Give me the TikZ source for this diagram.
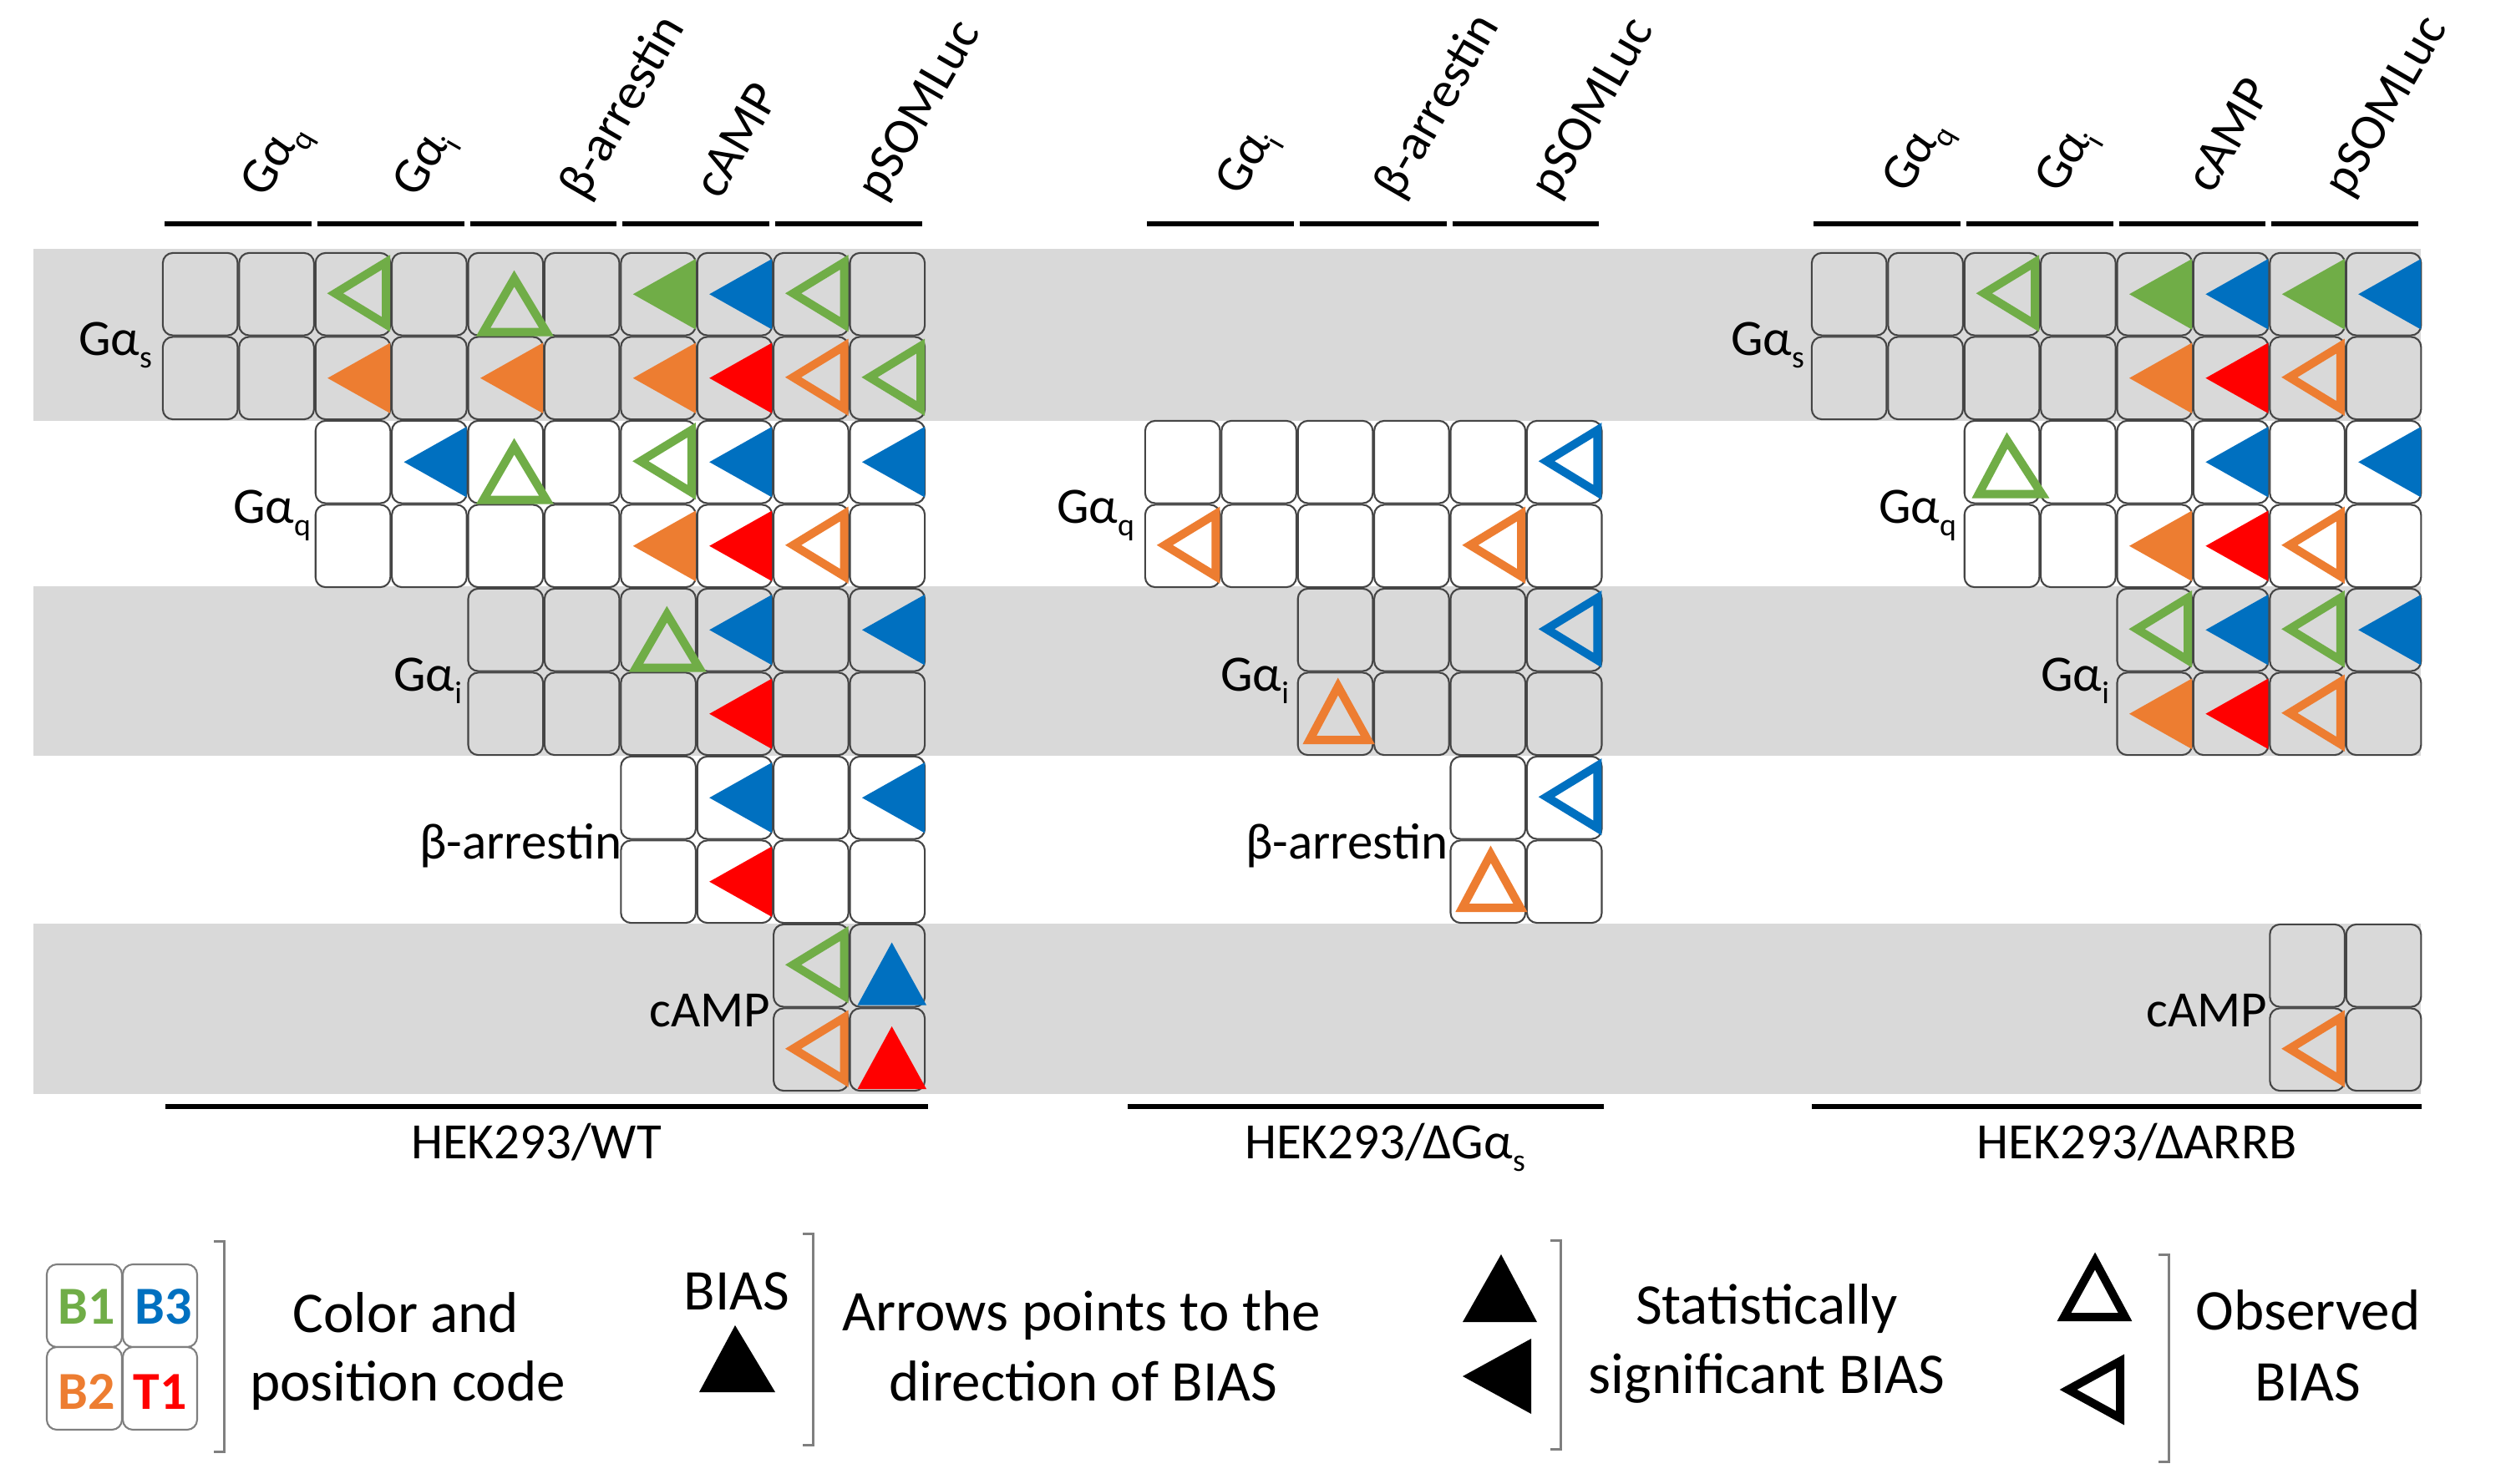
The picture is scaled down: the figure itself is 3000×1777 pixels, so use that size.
\documentclass[tikz,border=0pt]{standalone}
\usepackage{fontspec}
\setmainfont{Carlito}
\usepackage{graphicx}
\definecolor{cgreen}{HTML}{70AD47}
\definecolor{corange}{HTML}{ED7D31}
\definecolor{cblue}{HTML}{0070C0}
\definecolor{cred}{HTML}{FF0000}
\definecolor{bandgray}{HTML}{D9D9D9}
\definecolor{cellline}{HTML}{454545}
\definecolor{brk}{HTML}{7F7F7F}
\newcommand{\sbs}[1]{\raisebox{-0.25em}{\scalebox{0.62}{#1}}}
\newcommand{\Pa}{194}
\newcommand{\Pb}{1370}
\newcommand{\Pc}{2168}
\tikzset{
  bandfill/.style={fill=bandgray},
  cellbox/.style={draw=cellline,line width=1.05pt,rounded corners=6pt},
  hline/.style={line width=3pt,draw=black},
  brace/.style={draw=brk,line width=1.5pt},
  lbl/.style={font=\fontsize{30.5pt}{36pt}\selectfont},
  legtxt/.style={font=\fontsize{34.5pt}{41pt}\selectfont},
  legcode/.style={font=\fontsize{32pt}{38pt}\selectfont\bfseries},
  outl/.style={line width=5pt,line join=miter,miter limit=10},
}
\newcommand{\cells}[5]{%
  \foreach \cc in {#3,...,#4}{%
    \foreach \rr in {0,1}{%
      \path[cellbox,fill=#5] ({#1+91.4*\cc+0.9},{302+100.5*(2*#2+\rr)+0.9}) rectangle ({#1+91.4*(\cc+1)-0.9},{302+100.5*(2*#2+\rr+1)-0.9});
    }}}
\newcommand{\tri}[5]{%
  \pgfmathsetmacro\cL{#1+91.4*#2}%
  \pgfmathsetmacro\cR{\cL+91.4}%
  \pgfmathsetmacro\cT{302+100.5*#3}%
  \pgfmathsetmacro\cB{\cT+100.5}%
  \pgfmathsetmacro\cM{\cT+50.25}%
  \csname tri#4\endcsname{#5}}
\newcommand{\triLf}[1]{\fill[#1] (\cR-1,\cT+8) -- (\cR-1,\cB-8) -- (\cR-76,\cM) -- cycle;}
\newcommand{\triLo}[1]{\draw[#1,outl] (\cR-6,\cT+12) -- (\cR-6,\cB-14) -- (\cR-67,\cM-1) -- cycle;}
\newcommand{\triUf}[1]{\fill[#1] (\cL+10,\cB-3) -- (\cR+1,\cB-3) -- (\cL+51,\cB-78) -- cycle;}
\newcommand{\triUo}[1]{\draw[#1,outl] (\cL+19,\cB-5) -- (\cR+3,\cB-5) -- (\cL+56,\cB-69) -- cycle;}
\newcommand{\triUm}[1]{\draw[#1,outl] (\cL+18,\cB-12) -- (\cR+2,\cB-12) -- (\cL+52,\cB-76) -- cycle;}
\newcommand{\triUr}[1]{\draw[#1,outl] (\cL+15,\cB-19) -- (\cR-7,\cB-19) -- (\cL+49,\cB-83) -- cycle;}
\newcommand{\hseg}[2]{\draw[hline] ({#1+182.8*#2+3},268) -- ({#1+182.8*(#2+1)-4},268);}

\begin{document}
\begin{tikzpicture}[x=0.5pt,y=-0.5pt,every node/.style={inner sep=0pt,outer sep=0pt}]
\fill[white] (0,0) rectangle (3000,1777);
\path[use as bounding box] (0,0) rectangle (3000,1777);

% grey bands
\fill[bandfill] (40,298) rectangle (2898,504);
\fill[bandfill] (40,702) rectangle (2898,905);
\fill[bandfill] (40,1106) rectangle (2898,1310);

% ---------- panel 1 cells
\cells{\Pa}{0}{0}{9}{bandgray}
\cells{\Pa}{1}{2}{9}{white}
\cells{\Pa}{2}{4}{9}{bandgray}
\cells{\Pa}{3}{6}{9}{white}
\cells{\Pa}{4}{8}{9}{bandgray}
% ---------- panel 2 cells
\cells{\Pb}{1}{0}{5}{white}
\cells{\Pb}{2}{2}{5}{bandgray}
\cells{\Pb}{3}{4}{5}{white}
% ---------- panel 3 cells
\cells{\Pc}{0}{0}{7}{bandgray}
\cells{\Pc}{1}{2}{7}{white}
\cells{\Pc}{2}{4}{7}{bandgray}
\cells{\Pc}{4}{6}{7}{bandgray}

% ---------- panel 1 triangles
\tri{\Pa}{2}{0}{Lo}{cgreen}
\tri{\Pa}{4}{0}{Uo}{cgreen}
\tri{\Pa}{6}{0}{Lf}{cgreen}
\tri{\Pa}{7}{0}{Lf}{cblue}
\tri{\Pa}{8}{0}{Lo}{cgreen}
\tri{\Pa}{2}{1}{Lf}{corange}
\tri{\Pa}{4}{1}{Lf}{corange}
\tri{\Pa}{6}{1}{Lf}{corange}
\tri{\Pa}{7}{1}{Lf}{cred}
\tri{\Pa}{8}{1}{Lo}{corange}
\tri{\Pa}{9}{1}{Lo}{cgreen}
\tri{\Pa}{3}{2}{Lf}{cblue}
\tri{\Pa}{4}{2}{Uo}{cgreen}
\tri{\Pa}{6}{2}{Lo}{cgreen}
\tri{\Pa}{7}{2}{Lf}{cblue}
\tri{\Pa}{9}{2}{Lf}{cblue}
\tri{\Pa}{6}{3}{Lf}{corange}
\tri{\Pa}{7}{3}{Lf}{cred}
\tri{\Pa}{8}{3}{Lo}{corange}
\tri{\Pa}{6}{4}{Uo}{cgreen}
\tri{\Pa}{7}{4}{Lf}{cblue}
\tri{\Pa}{9}{4}{Lf}{cblue}
\tri{\Pa}{7}{5}{Lf}{cred}
\tri{\Pa}{7}{6}{Lf}{cblue}
\tri{\Pa}{9}{6}{Lf}{cblue}
\tri{\Pa}{7}{7}{Lf}{cred}
\tri{\Pa}{8}{8}{Lo}{cgreen}
\tri{\Pa}{9}{8}{Uf}{cblue}
\tri{\Pa}{8}{9}{Lo}{corange}
\tri{\Pa}{9}{9}{Uf}{cred}
% ---------- panel 2 triangles
\tri{\Pb}{5}{2}{Lo}{cblue}
\tri{\Pb}{0}{3}{Lo}{corange}
\tri{\Pb}{4}{3}{Lo}{corange}
\tri{\Pb}{5}{4}{Lo}{cblue}
\tri{\Pb}{2}{5}{Ur}{corange}
\tri{\Pb}{5}{6}{Lo}{cblue}
\tri{\Pb}{4}{7}{Ur}{corange}
% ---------- panel 3 triangles
\tri{\Pc}{2}{0}{Lo}{cgreen}
\tri{\Pc}{4}{0}{Lf}{cgreen}
\tri{\Pc}{5}{0}{Lf}{cblue}
\tri{\Pc}{6}{0}{Lf}{cgreen}
\tri{\Pc}{7}{0}{Lf}{cblue}
\tri{\Pc}{4}{1}{Lf}{corange}
\tri{\Pc}{5}{1}{Lf}{cred}
\tri{\Pc}{6}{1}{Lo}{corange}
\tri{\Pc}{2}{2}{Um}{cgreen}
\tri{\Pc}{5}{2}{Lf}{cblue}
\tri{\Pc}{7}{2}{Lf}{cblue}
\tri{\Pc}{4}{3}{Lf}{corange}
\tri{\Pc}{5}{3}{Lf}{cred}
\tri{\Pc}{6}{3}{Lo}{corange}
\tri{\Pc}{4}{4}{Lo}{cgreen}
\tri{\Pc}{5}{4}{Lf}{cblue}
\tri{\Pc}{6}{4}{Lo}{cgreen}
\tri{\Pc}{7}{4}{Lf}{cblue}
\tri{\Pc}{4}{5}{Lf}{corange}
\tri{\Pc}{5}{5}{Lf}{cred}
\tri{\Pc}{6}{5}{Lo}{corange}
\tri{\Pc}{6}{9}{Lo}{corange}

% ---------- header lines
\foreach \p in {0,...,4}{\hseg{\Pa}{\p}}
\foreach \p in {0,...,2}{\hseg{\Pb}{\p}}
\foreach \p in {0,...,3}{\hseg{\Pc}{\p}}

% ---------- header labels
\node[lbl,anchor=base west,rotate=60] (h1a) at (318,238) {Gα\sbs{q}};
\node[lbl,anchor=base west,rotate=60] (h1b) at (500,238) {Gα\sbs{i}};
\node[lbl,anchor=base west,rotate=60] (h1c) at (700,242) {β-arrestin};
\node[lbl,anchor=base west,rotate=60] (h1d) at (862,240) {cAMP};
\node[lbl,anchor=base west,rotate=60] (h1e) at (1056,243) {pSOMLuc};
\node[lbl,anchor=base west,rotate=60] (h2a) at (1485,236) {Gα\sbs{i}};
\node[lbl,anchor=base west,rotate=60] (h2b) at (1675,240) {β-arrestin};
\node[lbl,anchor=base west,rotate=60] (h2c) at (1862,240) {pSOMLuc};
\node[lbl,anchor=base west,rotate=60] (h3a) at (2283,234) {Gα\sbs{q}};
\node[lbl,anchor=base west,rotate=60] (h3b) at (2466,234) {Gα\sbs{i}};
\node[lbl,anchor=base west,rotate=60] (h3c) at (2648,234) {cAMP};
\node[lbl,anchor=base west,rotate=60] (h3d) at (2812,238) {pSOMLuc};

% ---------- row labels
\node[lbl,anchor=base east] (r1a) at (182,425) {Gα\sbs{s}};
\node[lbl,anchor=base east] (r1b) at (372,626) {Gα\sbs{q}};
\node[lbl,anchor=base east] (r1c) at (553,827) {Gα\sbs{i}};
\node[lbl,anchor=base east] (r1d) at (744,1028) {β-arrestin};
\node[lbl,anchor=base east] (r1e) at (922,1229) {cAMP};
\node[lbl,anchor=base east] (r2b) at (1358,626) {Gα\sbs{q}};
\node[lbl,anchor=base east] (r2c) at (1543,827) {Gα\sbs{i}};
\node[lbl,anchor=base east] (r2d) at (1733,1028) {β-arrestin};
\node[lbl,anchor=base east] (r3a) at (2160,425) {Gα\sbs{s}};
\node[lbl,anchor=base east] (r3b) at (2342,626) {Gα\sbs{q}};
\node[lbl,anchor=base east] (r3c) at (2525,827) {Gα\sbs{i}};
\node[lbl,anchor=base east] (r3e) at (2714,1229) {cAMP};

% ---------- footer lines and labels
\draw[hline] (198,1325) -- (1111,1325);
\draw[hline] (1350,1325) -- (1920,1325);
\draw[hline] (2169,1325) -- (2899,1325);
\node[lbl,anchor=base] (f1) at (642,1387) {HEK293/WT};
\node[lbl,anchor=base] (f2) at (1658,1387) {HEK293/ΔGα\sbs{s}};
\node[lbl,anchor=base] (f3) at (2558,1387) {HEK293/ΔARRB};

% ---------- legend 1
\path[cellbox,fill=white,draw=brk] (56,1514) rectangle (146,1613);
\path[cellbox,fill=white,draw=brk] (147,1514) rectangle (236,1613);
\path[cellbox,fill=white,draw=brk] (56,1613) rectangle (146,1712);
\path[cellbox,fill=white,draw=brk] (147,1613) rectangle (236,1712);
\node[legcode,text=cgreen,anchor=base] (cb1) at (104,1585) {B1};
\node[legcode,text=cblue,anchor=base] (cb3) at (196,1585) {B3};
\node[legcode,text=corange,anchor=base] (cb2) at (104,1687) {B2};
\node[legcode,text=cred,anchor=base] (ct1) at (192,1687) {T1};
\draw[brace] (256,1486) -- (268,1486) -- (268,1738) -- (256,1738);
\node[legtxt,anchor=base] (l1a) at (486,1595) {Color and};
\node[legtxt,anchor=base] (l1b) at (488,1677) {position code};
% ---------- legend 2
\node[legtxt,anchor=base] (l2t) at (882,1568) {BIAS};
\fill[black] (837,1667) -- (928,1667) -- (880,1587) -- cycle;
\draw[brace] (961,1477) -- (973,1477) -- (973,1730) -- (961,1730);
\node[legtxt,anchor=base] (l2a) at (1295,1593) {Arrows points to the};
\node[legtxt,anchor=base] (l2b) at (1297,1677) {direction of BIAS};
% ---------- legend 3
\fill[black] (1751,1583) -- (1840,1583) -- (1797,1502) -- cycle;
\fill[black] (1833,1603) -- (1833,1693) -- (1751,1648) -- cycle;
\draw[brace] (1856,1485) -- (1868,1485) -- (1868,1735) -- (1856,1735);
\node[legtxt,anchor=base] (l3a) at (2115,1585) {Statistically};
\node[legtxt,anchor=base] (l3b) at (2115,1668) {significant BIAS};
% ---------- legend 4
\draw[black,outl] (2471,1577) -- (2544,1577) -- (2508,1510) -- cycle;
\draw[black,outl] (2538,1630) -- (2538,1698) -- (2476,1664) -- cycle;
\draw[brace] (2584,1502) -- (2596,1502) -- (2596,1750) -- (2584,1750);
\node[legtxt,anchor=base] (l4a) at (2763,1592) {Observed};
\node[legtxt,anchor=base] (l4b) at (2763,1677) {BIAS};
\end{tikzpicture}
\end{document}
